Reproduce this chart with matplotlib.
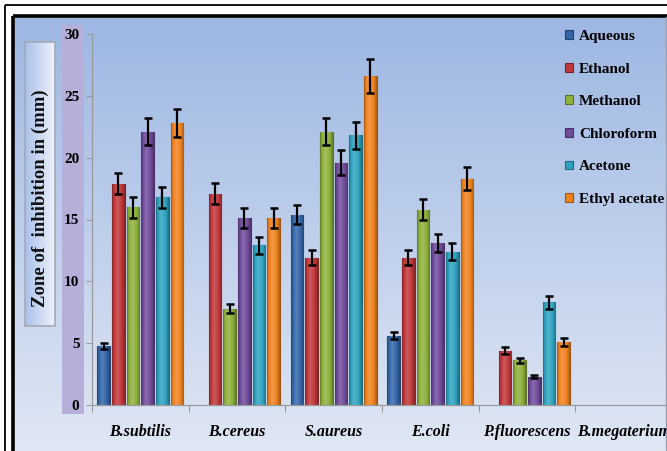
import numpy as np
import matplotlib
matplotlib.use("Agg")
import matplotlib.pyplot as plt
from matplotlib.patches import Rectangle
from matplotlib.colors import to_rgb

# ---------------- data ----------------
categories = ['B.subtilis', 'B.cereus', 'S.aureus', 'E.coli', 'P.fluorescens', 'B.megaterium']
series_names = ['Aqueous', 'Ethanol', 'Methanol', 'Chloroform', 'Acetone', 'Ethyl acetate']
aqueous = [4.8, 0, 15.4, 5.6, 0, 0]
ethanol = [17.9, 17.1, 11.9, 11.9, 4.4, 0]
methanol = [16.0, 7.8, 22.1, 15.8, 3.6, 0]
chloroform = [22.1, 15.1, 19.6, 13.1, 2.3, 0]
acetone = [16.8, 12.9, 21.8, 12.4, 8.3, 0]
ethyl_acetate = [22.8, 15.1, 26.6, 18.3, 5.1, 0]
aqueous_err = [0.25, 0, 0.8, 0.3, 0, 0]
ethanol_err = [0.85, 0.85, 0.6, 0.6, 0.3, 0]
methanol_err = [0.85, 0.4, 1.1, 0.85, 0.2, 0]
chloroform_err = [1.1, 0.8, 1.0, 0.7, 0.15, 0]
acetone_err = [0.85, 0.7, 1.1, 0.7, 0.5, 0]
ethyl_acetate_err = [1.15, 0.8, 1.35, 0.95, 0.3, 0]
y_ticks = [0, 5, 10, 15, 20, 25, 30]
y_label = 'Zone of  inhibition in (mm)'

values = [aqueous, ethanol, methanol, chloroform, acetone, ethyl_acetate]
errors = [aqueous_err, ethanol_err, methanol_err, chloroform_err, acetone_err, ethyl_acetate_err]
colors = ['#3366a8', '#c0373a', '#8db13c', '#714b9c', '#2ea3c0', '#f0821f']

W, H = 667, 451
fig = plt.figure(figsize=(W / 100, H / 100), dpi=100)
fig.patch.set_facecolor('white')

# ---------------- background (pixel coords) ----------------
bg = fig.add_axes([0, 0, 1, 1], zorder=-10)
bg.set_xlim(0, W)
bg.set_ylim(H, 0)
bg.axis('off')
top_c = np.array(to_rgb('#9db7e3'))
bot_c = np.array(to_rgb('#e0e7f4'))
t = np.linspace(0, 1, 256)[:, None, None]
grad = top_c * (1 - t) + bot_c * t
bg.imshow(grad, extent=[13, W, H, 17], aspect='auto', zorder=0)
# frame lines
bg.add_patch(Rectangle((5, 4.5), W, H, fill=False, ec='black', lw=1.3, zorder=5))
bg.add_patch(Rectangle((12.5, 16), W, H, fill=False, ec='black', lw=2.6, zorder=5))
bg.plot([665.5, 665.5], [17, H], color='#9a9fb0', lw=1.0, zorder=5)
# purple strip behind tick labels
bg.add_patch(Rectangle((62, 25), 22, 389, fc='#b6afd9', ec='none', zorder=2))
# y label box with horizontal gradient
bc_l = np.array(to_rgb('#a9c1ea'))
bc_r = np.array(to_rgb('#eef2fa'))
s = np.linspace(0, 1, 64)[None, :, None]
bgrad = bc_l * (1 - s) + bc_r * s
bg.imshow(bgrad, extent=[25, 55, 326, 42], aspect='auto', zorder=2)
bg.add_patch(Rectangle((25, 42), 30, 284, fill=False, ec='#a6a9b4', lw=1.2, zorder=3))
bg.text(40.5, 198, y_label, rotation=90, ha='center', va='center',
        fontfamily='Liberation Serif', fontweight='bold', fontsize=13.5, color='#111111', zorder=4)

# ---------------- main axes ----------------
ax = fig.add_axes([92 / W, 46 / H, 580 / W, 371 / H])
ax.patch.set_alpha(0)
x = np.arange(len(categories))
slot = 0.152
bw = 0.131


def shade(c, f):
    c = np.array(to_rgb(c))
    if f >= 0:
        return c + (1 - c) * f
    return c * (1 + f)


for i, (name, vals, errs, col) in enumerate(zip(series_names, values, errors, colors)):
    v = np.array(vals, dtype=float)
    e = np.array(errs, dtype=float)
    m = v > 0
    xs = x + (i - 2.5) * slot
    bars = ax.bar(xs[m], v[m], width=bw, color=col, edgecolor=shade(col, -0.35),
                  linewidth=0.8, label=name, zorder=2)
    # gradient overlay for a 3D look
    u = np.linspace(0, 1, 64)
    prof = np.interp(u, [0, 0.12, 0.4, 0.75, 1], [-0.35, -0.05, 0.18, 0.0, -0.3])
    row = np.array([shade(col, p) for p in prof])[None, :, :]
    for b in bars:
        im = ax.imshow(row, extent=[b.get_x(), b.get_x() + b.get_width(), 0, b.get_height()],
                       aspect='auto', zorder=2.5, interpolation='bilinear')
        im.set_clip_path(b)
    ax.errorbar(xs[m], v[m], yerr=e[m], fmt='none', ecolor='black', elinewidth=1.6,
                capsize=3, capthick=1.8, zorder=4)

ax.set_xlim(-0.5, len(categories) - 0.5)
ax.set_ylim(0, 30)
ax.set_yticks(y_ticks)
ax.set_yticklabels([str(v) for v in y_ticks], fontfamily='Liberation Serif',
                   fontweight='bold', fontsize=11)
ax.set_xticks(x)
ax.set_xticklabels(categories, fontfamily='Liberation Serif', fontweight='bold',
                   fontstyle='italic', fontsize=11.5)
ax.set_xticks(np.arange(len(categories) + 1) - 0.5, minor=True)
ax.tick_params(axis='x', which='major', length=0, pad=14)
ax.tick_params(axis='x', which='minor', length=5, color='#9a9a9a', width=0.8)
ax.tick_params(axis='y', length=4, color='#9a9a9a', width=0.8, pad=5)
for sp in ['top', 'right']:
    ax.spines[sp].set_visible(False)
for sp in ['left', 'bottom']:
    ax.spines[sp].set_color('#9a9a9a')
    ax.spines[sp].set_linewidth(0.9)

leg = ax.legend(loc='upper left', bbox_to_anchor=(559 / W, 1 - 24 / H),
                bbox_transform=fig.transFigure, frameon=False,
                prop={'family': 'Liberation Serif', 'weight': 'bold', 'size': 11},
                handlelength=0.5, handleheight=0.5, handletextpad=0.4,
                labelspacing=1.28, borderaxespad=0)

fig.savefig('out.png', dpi=100)
